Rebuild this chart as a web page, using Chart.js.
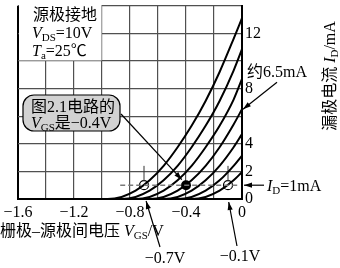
<!DOCTYPE html>
<html>
<head>
<meta charset="utf-8">
<script src="https://cdn.jsdelivr.net/npm/chart.js@4.4.1/dist/chart.umd.min.js"></script>
<style>
  html, body { margin: 0; padding: 0; background: #fff; }
  #chart { display: block; }
</style>
</head>
<body>
<canvas id="chart" width="340" height="268"></canvas>
<script>
// Axis ticks that carry a label
const X_TICK_LABELS = [-1.6, -1.2, -0.8, -0.4, 0];
const Y_TICK_LABELS = [0, 2, 4, 8, 12];

// Transfer curves: gate-source voltage (V) and drain current (mA)
const CURVE_VGS = [
    [-1.06, -0.96, -0.86, -0.76, -0.66, -0.56, -0.46, -0.36, -0.26, -0.16, -0.06, 0],
    [-0.96, -0.86, -0.76, -0.66, -0.56, -0.46, -0.36, -0.26, -0.16, -0.06, 0],
    [-0.86, -0.76, -0.66, -0.56, -0.46, -0.36, -0.26, -0.16, -0.06, 0],
    [-0.76, -0.66, -0.56, -0.46, -0.36, -0.26, -0.16, -0.06, 0],
    [-0.66, -0.56, -0.46, -0.36, -0.26, -0.16, -0.06, 0],
    [-0.56, -0.46, -0.36, -0.26, -0.16, -0.06, 0],
    [-0.46, -0.36, -0.26, -0.16, -0.06, 0]
];
const CURVE_ID = [
    [0, 0, 0.15, 0.6, 1.35, 2.4, 3.75, 5.3, 7.1, 9.2, 11.6, 13.1],
    [0, 0, 0.15, 0.6, 1.35, 2.4, 3.75, 5.3, 7.1, 9.3, 10.85],
    [0, 0, 0.15, 0.6, 1.35, 2.4, 3.75, 5.3, 7.2, 8.7],
    [0, 0, 0.15, 0.6, 1.35, 2.4, 3.75, 5.4, 6.5],
    [0, 0, 0.15, 0.6, 1.35, 2.4, 3.75, 4.7],
    [0, 0, 0.15, 0.6, 1.35, 2.4, 3.15],
    [0, 0, 0.15, 0.6, 1.35, 1.95]
];

// Marked points at ID = 1 mA
const REF_ID = 1;
const REF_LINE_VGS = [-0.87, -0.03];
const OPEN_VGS = [-0.7, -0.1];
const FILLED_VGS = [-0.4];
const MARK_TICK_ID = [1.3, 2.4];
const POINT_65 = { x: 0, y: 6.5 };

const FAM = '"Liberation Serif", "Noto Sans CJK SC", serif';
const GRID = '#505050';

function near(list, v) {
    return list.some(t => Math.abs(t - v) < 1e-6);
}

// Draw a run of text pieces: [text, style], style '' | 'i' italic | 's' subscript
function rich(ctx, runs, x, y, align) {
    const fontOf = s => (s === 'i' ? 'italic ' : '') + (s === 's' ? '11px ' : '16px ') + FAM;
    let w = 0;
    runs.forEach(([t, s]) => { ctx.font = fontOf(s); w += ctx.measureText(t).width; });
    let cx = align === 'center' ? x - w / 2 : x;
    ctx.textAlign = 'left';
    ctx.textBaseline = 'alphabetic';
    runs.forEach(([t, s]) => {
        ctx.font = fontOf(s);
        ctx.fillText(t, cx, s === 's' ? y + 3 : y);
        cx += ctx.measureText(t).width;
    });
}

function arrow(ctx, x1, y1, x2, y2) {
    ctx.beginPath();
    ctx.moveTo(x1, y1);
    ctx.lineTo(x2, y2);
    ctx.stroke();
    const a = Math.atan2(y2 - y1, x2 - x1), L = 8, W = 2.6;
    ctx.beginPath();
    ctx.moveTo(x2, y2);
    ctx.lineTo(x2 - L * Math.cos(a) + W * Math.sin(a), y2 - L * Math.sin(a) - W * Math.cos(a));
    ctx.lineTo(x2 - L * Math.cos(a) - W * Math.sin(a), y2 - L * Math.sin(a) + W * Math.cos(a));
    ctx.closePath();
    ctx.fill();
}

const annotations = {
    id: 'annotations',
    afterDatasetsDraw(chart) {
        const ctx = chart.ctx;
        const xs = chart.scales.x, ys = chart.scales.y;
        const px = v => xs.getPixelForValue(v), py = v => ys.getPixelForValue(v);
        ctx.save();
        ctx.fillStyle = '#000';
        ctx.strokeStyle = '#000';

        // conditions box (covers grid in the top-left cells)
        ctx.fillStyle = '#fff';
        ctx.fillRect(px(-1.6) + 1, 0, px(-1.0) - px(-1.6) - 1.5, py(10) - 0.5);
        ctx.fillStyle = '#000';
        rich(ctx, [['源极接地', '']], 33, 20);
        rich(ctx, [['V', 'i'], ['DS', 's'], ['=10V', '']], 32, 38);
        rich(ctx, [['T', 'i'], ['a', 's'], ['=25℃', '']], 32, 56);

        // callout bubble
        ctx.lineWidth = 1.2;
        ctx.fillStyle = '#d2d2d2';
        ctx.beginPath();
        ctx.roundRect(23, 95, 97, 36, 11);
        ctx.fill();
        ctx.stroke();
        ctx.fillStyle = '#000';
        rich(ctx, [['图2.1电路的', '']], 31, 112);
        rich(ctx, [['V', 'i'], ['GS', 's'], ['是−0.4V', '']], 31, 128);

        // arrows
        ctx.lineWidth = 1.2;
        arrow(ctx, 121, 114, px(-0.43), py(1.4));
        const h = { x: px(POINT_65.x), y: py(POINT_65.y) };
        arrow(ctx, h.x + 35, h.y - 27, h.x + 1, h.y);
        arrow(ctx, px(0) + 22, py(REF_ID), px(0) + 2, py(REF_ID));
        arrow(ctx, 160, 247, px(-0.685), py(0) + 2);
        arrow(ctx, 237, 246, px(-0.095), py(0) + 3);

        rich(ctx, [['约6.5mA', '']], 247, 77);
        rich(ctx, [['I', 'i'], ['D', 's'], ['=1mA', '']], 267, 191);
        rich(ctx, [['−0.7V', '']], 165, 263, 'center');
        rich(ctx, [['−0.1V', '']], 240, 261, 'center');

        // axis titles
        rich(ctx, [['栅极–源极间电压 ', ''], ['V', 'i'], ['GS', 's'], ['/V', '']], 0, 236);
        ctx.translate(335, 76);
        ctx.rotate(-Math.PI / 2);
        rich(ctx, [['漏极电流 ', ''], ['I', 'i'], ['D', 's'], ['/mA', '']], 0, 0, 'center');
        ctx.restore();
    }
};

const datasets = CURVE_VGS.map((xsArr, i) => ({
    data: xsArr.map((v, k) => ({ x: v, y: CURVE_ID[i][k] })),
    borderColor: '#000',
    borderWidth: 2,
    pointRadius: 0,
    cubicInterpolationMode: 'monotone'
}));

datasets.unshift({
    data: REF_LINE_VGS.map(v => ({ x: v, y: REF_ID })),
    borderColor: '#7a7a7a',
    borderWidth: 1.5,
    borderDash: [5, 3],
    pointRadius: 0
});

OPEN_VGS.forEach(v => {
    datasets.push({
        data: MARK_TICK_ID.map(y => ({ x: v, y: y })),
        borderColor: '#333',
        borderWidth: 1,
        pointRadius: 0
    });
});

datasets.push({
    data: OPEN_VGS.map(v => ({ x: v, y: REF_ID })),
    showLine: false,
    pointRadius: 4.5,
    pointBorderWidth: 1.2,
    pointBorderColor: '#000',
    pointBackgroundColor: 'rgba(255,255,255,0)'
});

datasets.push({
    data: FILLED_VGS.map(v => ({ x: v, y: REF_ID })),
    showLine: false,
    pointRadius: 5,
    pointBorderWidth: 0,
    pointBackgroundColor: '#000'
});

new Chart(document.getElementById('chart'), {
    type: 'line',
    data: { datasets: datasets },
    plugins: [annotations],
    options: {
        responsive: false,
        animation: false,
        events: [],
        layout: { padding: { left: 18, top: 0, right: 0, bottom: 0 } },
        plugins: { legend: { display: false }, tooltip: { enabled: false } },
        scales: {
            x: {
                type: 'linear',
                min: -1.6,
                max: 0,
                afterFit: s => { s.height = 69; s.paddingLeft = 0; s.paddingRight = 0; },
                border: { color: '#000', width: 2 },
                grid: {
                    drawTicks: false,
                    color: c => (c.tick && Math.abs(c.tick.value + 1.6) < 1e-6) ? '#000' : GRID,
                    lineWidth: c => (c.tick && Math.abs(c.tick.value + 1.6) < 1e-6) ? 2 : 1.2
                },
                ticks: {
                    stepSize: 0.2,
                    padding: 4,
                    autoSkip: false,
                    maxRotation: 0,
                    minRotation: 0,
                    color: '#000',
                    font: { family: FAM, size: 16 },
                    callback: v => near(X_TICK_LABELS, v) ? (v < 0 ? '−' + Math.abs(v).toFixed(1) : '0') : ''
                }
            },
            y: {
                position: 'right',
                min: 0,
                max: 14,
                afterFit: s => { s.width = 98; s.paddingTop = 0; s.paddingBottom = 0; },
                border: { color: '#000', width: 2 },
                grid: {
                    drawTicks: false,
                    color: GRID,
                    lineWidth: 1.2
                },
                ticks: {
                    stepSize: 2,
                    padding: 3,
                    autoSkip: false,
                    color: '#000',
                    font: { family: FAM, size: 16 },
                    callback: v => near(Y_TICK_LABELS, v) ? String(v) : ''
                }
            }
        }
    }
});
</script>
</body>
</html>
